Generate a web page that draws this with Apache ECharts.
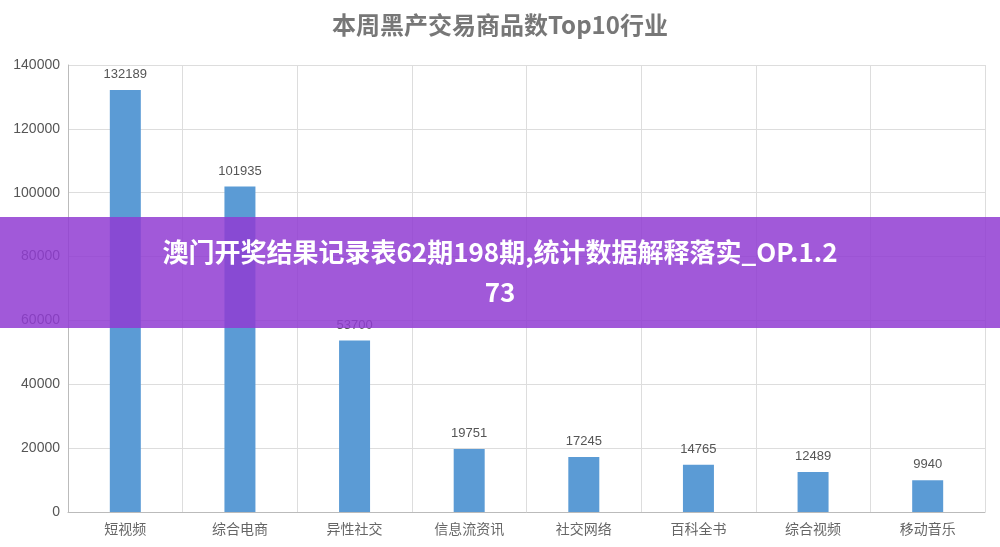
<!DOCTYPE html>
<html><head><meta charset="utf-8">
<script src="https://cdn.jsdelivr.net/npm/echarts@6/dist/echarts.min.js"></script>
<style>html,body{margin:0;padding:0;background:#fff}#c{width:1000px;height:547px}</style>
</head><body><div id="c"></div>
<script>
const categories = ['短视频','综合电商','异性社交','信息流资讯','社交网络','百科全书','综合视频','移动音乐'];
const values = [132189,101935,53700,19751,17245,14765,12489,9940];
const titleText = '本周黑产交易商品数Top10行业';
const bannerText = '澳门开奖结果记录表62期198期,统计数据解释落实_OP.1.2\n73';
const chart = echarts.init(document.getElementById('c'));
chart.setOption({
  backgroundColor:'#fff',
  animation:false,
  title:{text:titleText,left:'center',top:8,textStyle:{color:'#777',fontSize:24,fontWeight:'bold',fontFamily:'Noto Sans CJK SC'}},
  grid:{left:68,right:15,top:65,bottom:35},
  xAxis:{type:'category',data:categories,
    axisLine:{lineStyle:{color:'#bbb'}},axisTick:{show:false},
    splitLine:{show:true,lineStyle:{color:'#ddd'}},
    axisLabel:{color:'#666',fontSize:14,fontFamily:'Noto Sans CJK SC',margin:10}},
  yAxis:{type:'value',min:0,max:140000,interval:20000,
    axisLine:{show:true,lineStyle:{color:'#bbb'}},
    splitLine:{lineStyle:{color:'#ddd'}},
    axisLabel:{color:'#555',fontSize:14,fontFamily:'Liberation Sans',formatter:v=>String(v)}},
  series:[{type:'bar',data:values,barWidth:31,itemStyle:{color:'#5b9bd5'},
    label:{show:true,position:'top',color:'#555',fontSize:13,fontFamily:'Liberation Sans',distance:9}}],
  graphic:[
    {type:'rect',left:0,top:217,shape:{width:1000,height:111},style:{fill:'rgba(145,60,210,0.85)'},z:100},
    {type:'text',left:'center',top:232,z:101,style:{text:bannerText,fill:'#fff',font:'bold 26px "Noto Sans CJK SC"',textAlign:'center',lineHeight:40}}
  ]
});
</script></body></html>
